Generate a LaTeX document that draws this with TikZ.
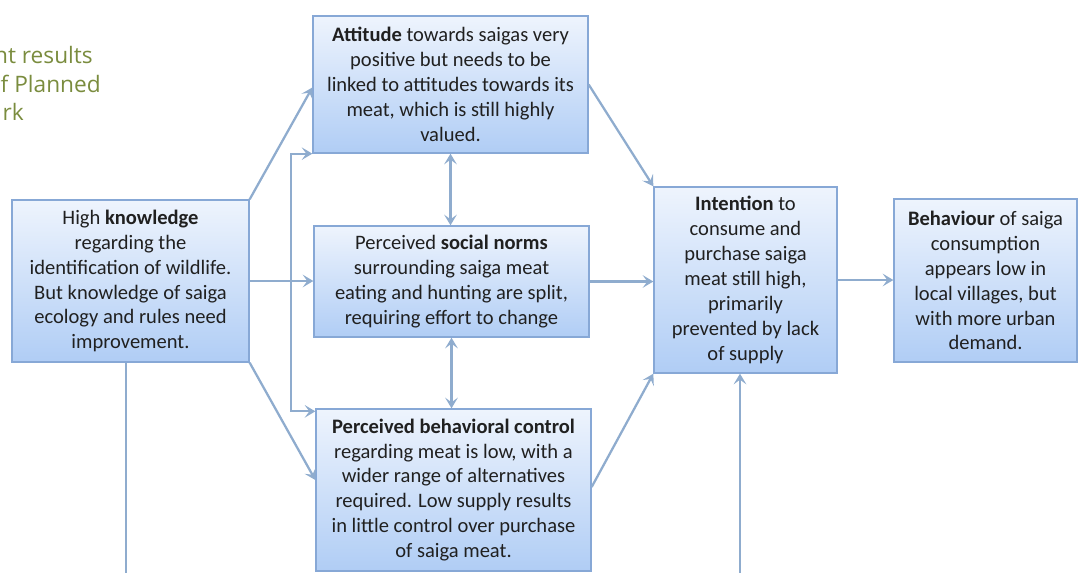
\documentclass[tikz,border=0pt]{standalone}
\usepackage{fontspec}
\setmainfont{Carlito}
\newfontfamily\titlefont{Open Sans}
\usetikzlibrary{arrows.meta,shadows,calc}
\definecolor{boxtop}{RGB}{238,244,253}
\definecolor{boxbot}{RGB}{176,205,245}
\definecolor{boxline}{RGB}{135,168,214}
\definecolor{arrcol}{RGB}{143,172,206}
\definecolor{olive}{RGB}{122,140,62}
\definecolor{txt}{RGB}{32,32,32}
\begin{document}
\begin{tikzpicture}[x=0.75pt,y=-0.75pt,
  box/.style={draw=boxline, line width=1pt, top color=boxtop, bottom color=boxbot,
    align=center, text=txt, inner sep=2pt,
    font=\fontsize{15.4}{18.7}\selectfont,
    drop shadow={shadow xshift=1pt, shadow yshift=-1pt, opacity=0.35, fill=gray}},
  arr/.style={draw=arrcol, line width=1.7pt, -{Stealth[length=8pt,width=9.5pt,inset=3.5pt]}},
  arrboth/.style={draw=arrcol, line width=1.7pt, {Stealth[length=8pt,width=9.5pt,inset=3.5pt]}-{Stealth[length=8pt,width=9.5pt,inset=3.5pt]}},
  plain/.style={draw=arrcol, line width=1.7pt},
  ttl/.style={text=olive, font=\titlefont\fontsize{17}{20}\selectfont, anchor=base east, inner sep=0pt}
]
\useasboundingbox (0,0) rectangle (1078,572);

\node[ttl] (t1) at (93,63) {nt results};
\node[ttl] (t2) at (101,92) {f Planned};
\node[ttl] (t3) at (24,120) {rk};

\node[box, minimum width={237*0.75pt}, minimum height={162*0.75pt}] (know) at (130.5,281)
 {High \textbf{knowledge}\\regarding the\\identification of wildlife.\\But knowledge of saiga\\ecology and rules need\\improvement.};
\node[box, minimum width={275*0.75pt}, minimum height={137*0.75pt}] (att) at (450.5,84.5)
 {\textbf{Attitude} towards saigas very\\positive but needs to be\\linked to attitudes towards its\\meat, which is still highly\\valued.};
\node[box, minimum width={275*0.75pt}, minimum height={111*0.75pt}] (soc) at (451.5,281.5)
 {Perceived \textbf{social norms}\\surrounding saiga meat\\eating and hunting are split,\\requiring effort to change};
\node[box, minimum width={275*0.75pt}, minimum height={162*0.75pt}] (pbc) at (453.5,490)
 {\textbf{Perceived behavioral control}\\regarding meat is low, with a\\wider range of alternatives\\required. Low supply results\\in little control over purchase\\of saiga meat.};
\node[box, minimum width={183*0.75pt}, minimum height={186*0.75pt}] (int) at (745.5,280)
 {\textbf{Intention} to\\consume and\\purchase saiga\\meat still high,\\primarily\\prevented by lack\\of supply};
\node[box, minimum width={183*0.75pt}, minimum height={163*0.75pt}] (beh) at (985.5,280.5)
 {\textbf{Behaviour} of saiga\\consumption\\appears low in\\local villages, but\\with more urban\\demand.};

\coordinate (b1) at (740,580);
\coordinate (b2) at (126,580);

\draw[arr] (know.north east) -- ($(att.west)+(0,3)$);
\draw[arr] (know.east) -- (know.east -| soc.west);
\draw[arr] (know.south east) -- ($(pbc.west)+(0,-10)$);
\draw[arrboth] (att.south west) -- ++(-21,0) |- ($(pbc.north west)+(0,3)$);
\draw[arrboth] (att.south) -- (att.south |- soc.north);
\draw[arrboth] (soc.south) -- (soc.south |- pbc.north);
\draw[arr] (att.east) -- (int.north west);
\draw[arr] (soc.east) -- (soc.east -| int.west);
\draw[arr] ($(pbc.east)+(0,-3)$) -- (int.south west);
\draw[arr] (int.east) -- (int.east -| beh.west);
\draw[arr] (b1) -- (b1 |- int.south);
\draw[plain] (b2 |- know.south) -- (b2);
\end{tikzpicture}
\end{document}
